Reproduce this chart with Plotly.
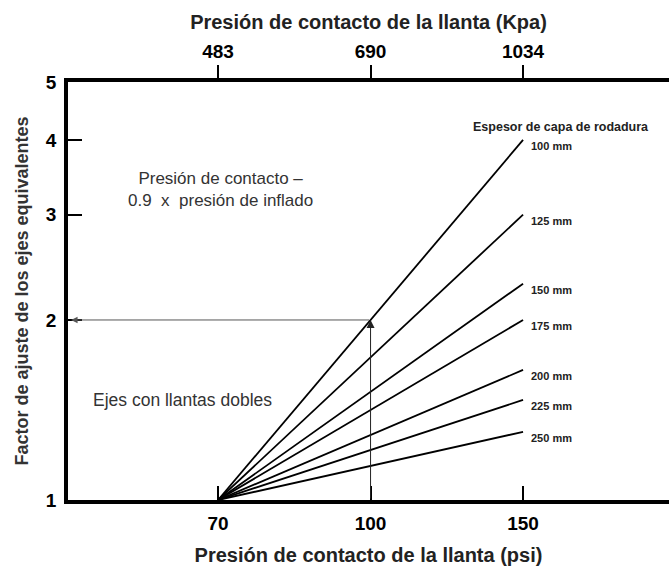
import math
import plotly.graph_objects as go

# ---- data ----
psi_ticks = ["70", "100", "150"]
kpa_ticks = ["483", "690", "1034"]
psi_minor = [80, 90]
thickness_labels = ["100 mm", "125 mm", "150 mm", "175 mm", "200 mm", "225 mm", "250 mm"]
factor_start = [1.0, 1.0, 1.0, 1.0, 1.0, 1.0, 1.0]
factor_end = [4.0, 3.0, 2.3, 2.0, 1.65, 1.47, 1.3]
y_ticks = [1, 2, 3, 4, 5]
example_psi = "100"
example_factor = 2.0

FONT = "Liberation Sans, Arial, sans-serif"
x_range = [-0.984, 2.957]

fig = go.Figure()

for lab, f0, f1 in zip(thickness_labels, factor_start, factor_end):
    fig.add_trace(go.Scatter(
        x=[psi_ticks[0], psi_ticks[-1]], y=[f0, f1], mode="lines",
        line=dict(color="black", width=1.8), showlegend=False, hoverinfo="skip",
        xaxis="x", yaxis="y"))
    fig.add_annotation(x=psi_ticks.index(psi_ticks[-1]), y=math.log10(f1), xref="x", yref="y",
                       text="<b>%s</b>" % lab, showarrow=False, xanchor="left", yanchor="middle",
                       xshift=6, yshift=-6, font=dict(family=FONT, size=11, color="#222"))

# invisible trace on top axis so categories register
fig.add_trace(go.Scatter(x=kpa_ticks, y=[1, 1, 1], mode="markers", marker=dict(opacity=0),
                         showlegend=False, hoverinfo="skip", xaxis="x2", yaxis="y"))

# minor tick positions (linear between 70 and 100 psi)
p0, p1 = float(psi_ticks[0]), float(psi_ticks[1])
minor_pos = [(v - p0) / (p1 - p0) for v in psi_minor]

fig.update_layout(
    width=669, height=574,
    margin=dict(l=68, r=0, t=82, b=74),
    paper_bgcolor="white", plot_bgcolor="white",
    font=dict(family=FONT, color="black"),
    xaxis=dict(type="category", categoryarray=psi_ticks, range=x_range,
               showline=True, linecolor="black", linewidth=3.5,
               ticks="inside", ticklen=14, tickwidth=1.5, tickcolor="black",
               showgrid=False, zeroline=False, ticklabelstandoff=3,
               tickfont=dict(family=FONT, size=19, color="black", weight="bold"),
               title=dict(text="<b>Presión de contacto de la llanta (psi)</b>",
                          font=dict(family=FONT, size=20, color="#222"), standoff=16)),
    xaxis2=dict(type="category", categoryarray=kpa_ticks, range=x_range,
                overlaying="x", side="top", anchor="y",
                showline=True, linecolor="black", linewidth=3.5,
                ticks="outside", ticklen=13, tickwidth=1.5, tickcolor="black",
                showgrid=False, zeroline=False,
                tickfont=dict(family=FONT, size=19, color="black", weight="bold"),
                title=dict(text="<b>Presión de contacto de la llanta (Kpa)</b>",
                           font=dict(family=FONT, size=20, color="#222"), standoff=7)),
    xaxis3=dict(type="linear", range=x_range, overlaying="x", side="bottom", anchor="y",
                tickmode="array", tickvals=minor_pos, ticks="inside", ticklen=14,
                tickwidth=1.5, tickcolor="black", showticklabels=False,
                showline=False, showgrid=False, zeroline=False),
    yaxis=dict(type="log", range=[0, math.log10(5)],
               tickmode="array", tickvals=y_ticks, ticktext=[str(v) for v in y_ticks],
               showline=True, linecolor="black", linewidth=3.5,
               ticks="inside", ticklen=14, tickwidth=1.5, tickcolor="black",
               showgrid=False, zeroline=False, ticklabelstandoff=4,
               tickfont=dict(family=FONT, size=19, color="black", weight="bold"),
               title=dict(text="<b>Factor de ajuste de los ejes equivalentes</b>",
                          font=dict(family=FONT, size=18, color="#333"), standoff=14)),
)

# guide arrows for the worked example
ix = psi_ticks.index(example_psi)
fig.add_annotation(x=ix, y=math.log10(example_factor), ax=ix, ay=0,
                   xref="x", yref="y", axref="x", ayref="y", text="", showarrow=True,
                   arrowhead=2, arrowsize=1.6, arrowwidth=1, arrowcolor="#222")
fig.add_annotation(x=x_range[0] + 0.02, y=math.log10(example_factor), ax=ix, ay=math.log10(example_factor),
                   xref="x", yref="y", axref="x", ayref="y", text="", showarrow=True,
                   arrowhead=2, arrowsize=1.3, arrowwidth=1, arrowcolor="#555")

# text notes
fig.add_annotation(xref="paper", yref="paper", x=0.253, y=0.744, showarrow=False,
                   xanchor="center", yanchor="middle",
                   text="Presión de contacto –<br>0.9\u00a0\u00a0x\u00a0\u00a0presión de inflado",
                   font=dict(family=FONT, size=17, color="#333"), align="center")
fig.add_annotation(xref="paper", yref="paper", x=0.19, y=0.239, showarrow=False,
                   xanchor="center", yanchor="middle",
                   text="Ejes con llantas dobles",
                   font=dict(family=FONT, size=17.5, color="#333"))
fig.add_annotation(xref="paper", yref="paper", x=0.82, y=0.892, showarrow=False,
                   xanchor="center", yanchor="middle",
                   text="<b>Espesor de capa de rodadura</b>",
                   font=dict(family=FONT, size=12.5, color="#222"))

fig.write_html("out.html", config={"displayModeBar": False},
               post_script="document.body.style.margin='0';"
                           "document.documentElement.style.overflow='hidden';")
